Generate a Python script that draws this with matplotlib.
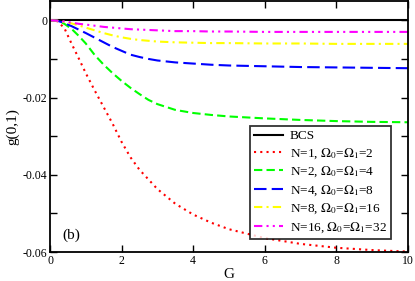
"""g(0,1) vs G for BCS and several N (panel b)."""

import matplotlib
matplotlib.use("Agg")
import matplotlib.pyplot as plt
from matplotlib.ticker import MultipleLocator, FixedLocator

plt.rcParams["font.family"] = ["Liberation Serif", "DejaVu Serif"]
plt.rcParams["mathtext.fontset"] = "stix"

G = [0, 0.2, 0.4, 0.6, 0.8, 1.0, 1.25, 1.5, 1.75, 2.0, 2.25, 2.5, 2.75,
     3.0, 3.5, 4.0, 4.5, 5.0, 6.0, 7.0, 8.0, 9.0, 10.0]

bcs = [0.0] * len(G)
n1 = [0, -0.0002, -0.0020, -0.0060, -0.0098, -0.0137, -0.0182, -0.0225,
      -0.0268, -0.0315, -0.0355, -0.0387, -0.0412, -0.0437, -0.0475,
      -0.0503, -0.0524, -0.0541, -0.0564, -0.0579, -0.0589, -0.0595, -0.0599]
n2 = [0, -0.0001, -0.0009, -0.0022, -0.0040, -0.0060, -0.0090, -0.0115,
      -0.0137, -0.0157, -0.0175, -0.0191, -0.0206, -0.0217, -0.0232,
      -0.0240, -0.0245, -0.0249, -0.0254, -0.0258, -0.0261, -0.0263, -0.0264]
n4 = [0, -0.0001, -0.0007, -0.0015, -0.0024, -0.0033, -0.0045, -0.0057,
      -0.0069, -0.0079, -0.0089, -0.0095, -0.0100, -0.0104, -0.0109,
      -0.0112, -0.0115, -0.0117, -0.0119, -0.0121, -0.0122, -0.0123, -0.0124]
n8 = [0, -0.0001, -0.0004, -0.0008, -0.0013, -0.0019, -0.0026, -0.0033,
      -0.0039, -0.0044, -0.0048, -0.0051, -0.0053, -0.0055, -0.0057,
      -0.0058, -0.0059, -0.0059, -0.0060, -0.0060, -0.0061, -0.0061, -0.0061]
n16 = [0, -0.0001, -0.0003, -0.0006, -0.0009, -0.0011, -0.0014, -0.0017,
       -0.0019, -0.0021, -0.0023, -0.0024, -0.0025, -0.0026, -0.0028,
       -0.0028, -0.0029, -0.0029, -0.0030, -0.0030, -0.0030, -0.0030, -0.0030]

labels = [
    "BCS",
    r"N=1, $\Omega_0$=$\Omega_1$=2",
    r"N=2, $\Omega_0$=$\Omega_1$=4",
    r"N=4, $\Omega_0$=$\Omega_1$=8",
    r"N=8, $\Omega_0$=$\Omega_1$=16",
    r"N=16, $\Omega_0$=$\Omega_1$=32",
]

x_ticks = [0, 2, 4, 6, 8, 10]
y_ticks = [-0.06, -0.04, -0.02, 0]
y_ticklabels = ["-0.06", "-0.04", "-0.02", "0"]

fig = plt.figure(figsize=(4.15, 2.81), dpi=100)
ax = fig.add_axes([0.1205, 0.1032, 0.8625, 0.8932])

lw = 1.5
ax.plot(G, bcs, color="black", lw=lw, label=labels[0])
ax.plot(G, n1, color="#ff0000", lw=lw, dashes=(1, 2), label=labels[1])
ax.plot(G, n2, color="#00ff00", lw=lw, dashes=(4, 2), label=labels[2])
ax.plot(G, n4, color="#0000ff", lw=lw, dashes=(6, 2.5), label=labels[3])
ax.plot(G, n8, color="#ffff00", lw=lw, dashes=(4, 2, 1, 2), label=labels[4])
ax.plot(G, n16, color="#ff00ff", lw=lw, dashes=(4, 2, 1, 2, 1, 2), label=labels[5])

ax.set_xlim(0, 10)
ax.set_ylim(-0.06, 0.005)
ax.xaxis.set_major_locator(FixedLocator(x_ticks))
ax.set_xticklabels([str(t) for t in x_ticks])
ax.yaxis.set_major_locator(FixedLocator(y_ticks))
ax.set_yticklabels(y_ticklabels)
ax.yaxis.set_minor_locator(MultipleLocator(0.01))
ax.tick_params(which="both", direction="in", top=True, right=True,
               length=5, width=1, labelsize=8.5, pad=2)
for s in ax.spines.values():
    s.set_linewidth(1.3)

ax.set_xlabel("G", fontsize=11, labelpad=1)
ax.set_ylabel("g(0,1)", fontsize=11, labelpad=2)
ax.text(0.034, 0.068, "(b)", transform=ax.transAxes, fontsize=11, va="center")

leg = ax.legend(loc="upper right", bbox_to_anchor=(0.952, 0.502), fontsize=9.5,
                frameon=True, fancybox=False, handlelength=2.2,
                handletextpad=0.5, labelspacing=0.3, borderpad=0.3,
                borderaxespad=0)
leg.get_frame().set_edgecolor("black")
leg.get_frame().set_linewidth(1.3)

fig.savefig("out.png", dpi=100)
